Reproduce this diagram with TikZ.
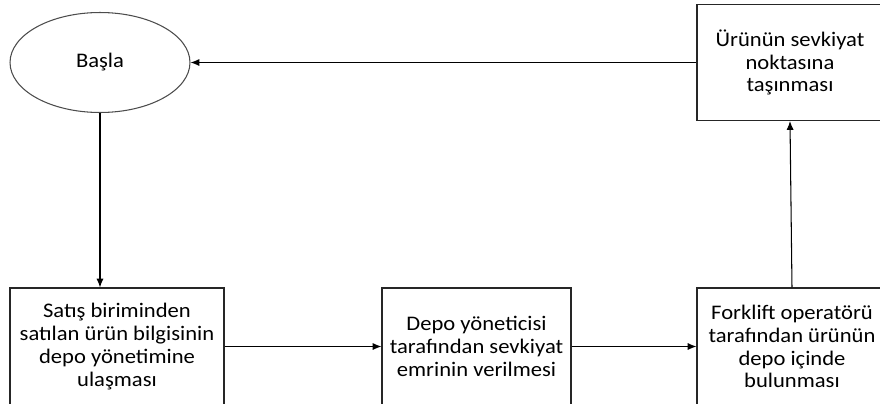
\documentclass[tikz,border=0pt]{standalone}
\usepackage{fontspec}
\setmainfont{Carlito}[FakeStretch=1.09]
\usetikzlibrary{arrows.meta}
\usetikzlibrary{shapes.geometric}
\tikzset{box/.style = {draw=black!85, rectangle, align=center, inner sep=0, font=\fontsize{11.8}{13}\selectfont}}
\tikzset{arr/.style = {-{Latex[length=5pt,width=4pt]}, draw=black}}

\begin{document}
\begin{tikzpicture}[x=0.02cm, y=-0.02cm, line width=0.6pt]
        \useasboundingbox (0,0) rectangle (880,403);
        \clip (0,0) rectangle (880,403);
        \node [ellipse, draw=black!70, minimum width=3.6cm, minimum height=2cm, font=\fontsize{11.8}{13}\selectfont] (basla) at (100,62.5) {Başla};
        \node [box, minimum width=3.72cm, minimum height=2.32cm] (tasima) at (790,62.5) {Ürünün sevkiyat\\noktasına\\taşınması};
        \node [box, minimum width=4.28cm, minimum height=2.34cm] (satis) at (117,346.5) {Satış biriminden\\satılan ürün bilgisinin\\depo yönetimine\\ulaşması};
        \node [box, minimum width=3.78cm, minimum height=2.34cm] (depo) at (476.5,346.5) {Depo yöneticisi\\tarafından sevkiyat\\emrinin verilmesi};
        \node [box, minimum width=3.8cm, minimum height=2.34cm] (forklift) at (792,346.5) {Forklift operatörü\\tarafından ürünün\\depo içinde\\bulunması};
        \draw [arr] (tasima.west) -- (basla.east);
        \draw [arr] (basla.south) -- (basla.south |- satis.north);
        \draw [arr] (satis.east) -- (depo.west);
        \draw [arr] (depo.east) -- (forklift.west);
        \draw [arr] (forklift.north) -- (tasima.south);
    \end{tikzpicture}
\end{document}
